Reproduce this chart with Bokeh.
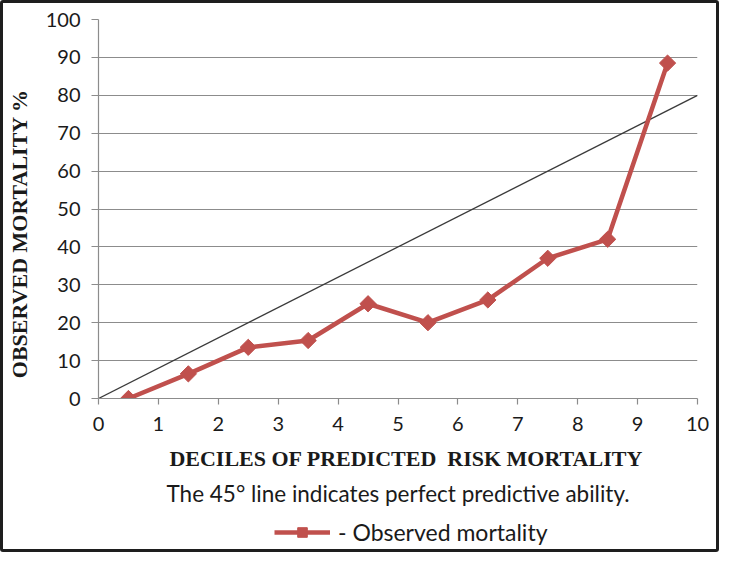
import math
from bokeh.plotting import figure
from bokeh.layouts import column
from bokeh.models import Range1d, FixedTicker, Title, Legend, LegendItem
from bokeh.embed import file_html
from bokeh.resources import INLINE

deciles = [0.5, 1.5, 2.5, 3.5, 4.5, 5.5, 6.5, 7.5, 8.5, 9.5]
observed = [0.0, 6.5, 13.5, 15.3, 25.0, 20.0, 26.0, 37.0, 42.0, 88.5]
ref_x = [0, 10]
ref_y = [0, 80]
x_ticks = list(range(0, 11))
y_ticks = list(range(0, 101, 10))

RED = "#C0504D"
GRID = "#8C8C8C"
SANS = "Lato"
SERIF = "Liberation Serif"
INK = "#1a1a1a"
NB = "\u00a0"
NAN = float("nan")

W = 713
H1 = 508
H2 = 38

p = figure(width=W, height=H1, output_backend="svg", toolbar_location=None,
           x_range=Range1d(0, 10), y_range=Range1d(0, 100),
           min_border_left=92, min_border_top=16, min_border_right=19, min_border_bottom=H1 - 395)
p.outline_line_color = None
p.background_fill_color = "white"
p.border_fill_color = "white"

p.xgrid.visible = False
p.ygrid.grid_line_color = GRID
p.ygrid.grid_line_width = 1.2
p.ygrid.ticker = FixedTicker(ticks=y_ticks)

p.xaxis.ticker = FixedTicker(ticks=x_ticks)
p.yaxis.ticker = FixedTicker(ticks=y_ticks)
for ax in (p.xaxis[0], p.yaxis[0]):
    ax.axis_line_color = GRID
    ax.axis_line_width = 1.2
    ax.major_tick_line_color = GRID
    ax.major_tick_line_width = 1.2
    ax.major_tick_in = 0
    ax.minor_tick_line_color = None
    ax.major_label_text_font = SANS
    ax.major_label_text_font_size = "20px"
    ax.major_label_text_color = INK
    ax.axis_label_text_font = SERIF
    ax.axis_label_text_font_style = "bold"
    ax.axis_label_text_color = INK
p.yaxis.major_tick_out = 7
p.yaxis.major_label_standoff = 11
p.xaxis.major_tick_out = 6
p.xaxis.major_label_standoff = 12

p.xaxis.axis_label = NB * 3 + "DECILES OF PREDICTED" + NB + " RISK MORTALITY"
p.xaxis.axis_label_text_font_size = "22px"
p.xaxis.axis_label_standoff = 12

p.yaxis.axis_label = "OBSERVED MORTALITY %" + NB * 9
p.yaxis.axis_label_text_font_size = "22px"
p.yaxis.axis_label_standoff = 11

p.line(ref_x, ref_y, line_color="#3a3a3a", line_width=1.3)
p.line(deciles, observed, line_color=RED, line_width=4.5)
p.scatter(deciles, observed, marker="square", angle=math.pi / 4, size=11.5,
          fill_color=RED, line_color=RED)

caption = Title(text="The 45\u00b0 line indicates perfect predictive ability.",
                align="center", text_font=SANS, text_font_style="normal",
                text_font_size="22.5px", text_color=INK, standoff=8)
p.add_layout(caption, "below")

# legend strip
q = figure(width=W, height=H2, output_backend="svg", toolbar_location=None,
           x_range=Range1d(0, 1), y_range=Range1d(0, 1),
           min_border_left=0, min_border_right=0, min_border_top=0, min_border_bottom=0)
q.axis.visible = False
q.grid.visible = False
q.outline_line_color = None
q.border_fill_color = "white"
k_line = q.line(x=[NAN, NAN], y=[NAN, NAN], line_color=RED, line_width=4.5)
k_sq = q.scatter(x=[NAN], y=[NAN], marker="square", size=17, fill_color=RED, line_color=RED)
legend = Legend(items=[LegendItem(label="- Observed mortality", renderers=[k_line, k_sq])],
                location=(176, 3), orientation="horizontal",
                border_line_color=None, background_fill_alpha=0,
                glyph_width=56, glyph_height=24, label_standoff=8,
                label_text_font=SANS, label_text_font_size="23px", label_text_color=INK,
                margin=0, padding=2)
q.add_layout(legend)

layout = column(p, q, spacing=0,
                styles={"border": "3px solid #1e1e1e", "border-radius": "3px",
                        "background-color": "white"})

open("out.html", "w").write(file_html(layout, INLINE))
